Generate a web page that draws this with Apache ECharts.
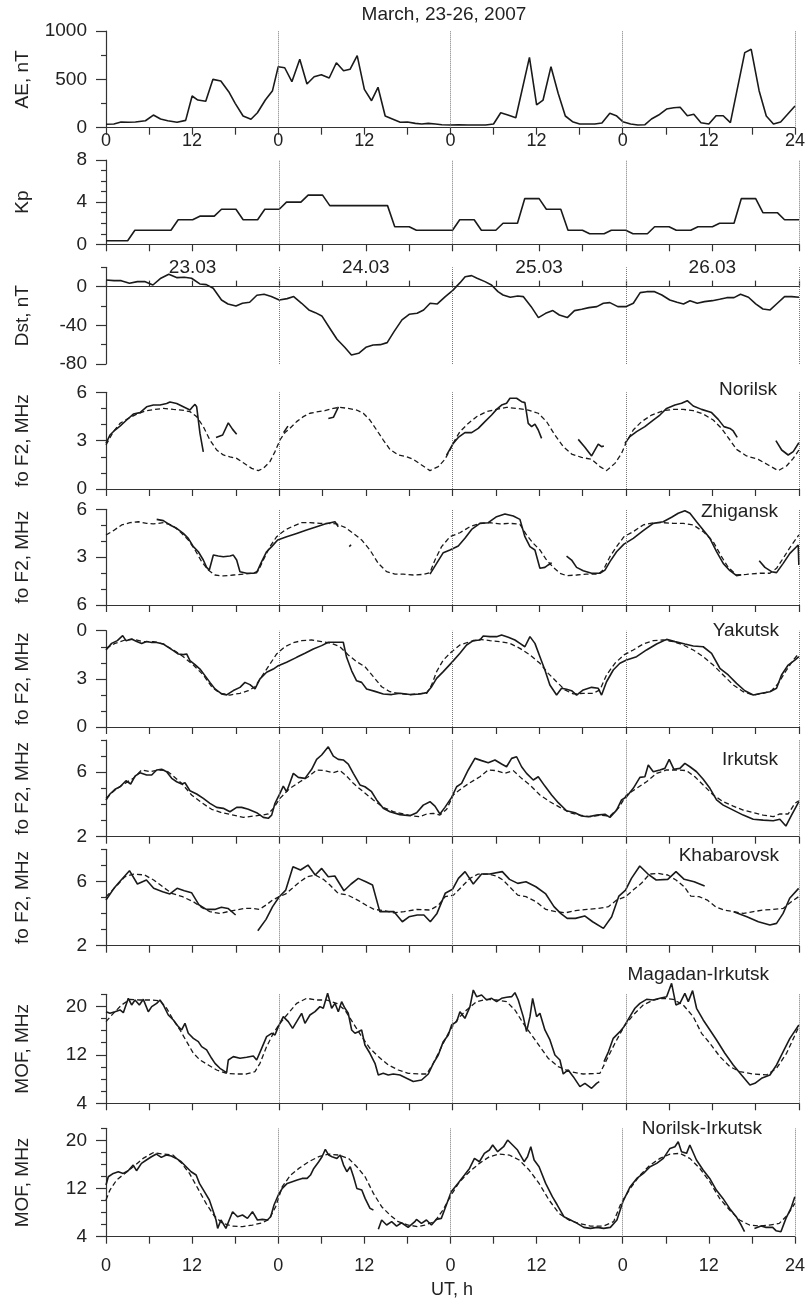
<!DOCTYPE html>
<html><head><meta charset="utf-8">
<script src="https://cdn.jsdelivr.net/npm/echarts@6/dist/echarts.min.js"></script>
<style>html,body{margin:0;padding:0;background:#fff}#c{width:808px;height:1304px}</style>
</head><body><div id="c"></div><script>
// ---------------- DATA ----------------
const chartTitle = 'March, 23-26, 2007';
const xAxisTitle = 'UT, h';
const dayBoundaries = [24, 48, 72, 96];
const dayLabelHours = [12, 36, 60, 84];
const dayLabels = ['23.03', '24.03', '25.03', '26.03'];
const stationNames = ['Norilsk', 'Zhigansk', 'Yakutsk', 'Irkutsk', 'Khabarovsk', 'Magadan-Irkutsk', 'Norilsk-Irkutsk'];
const yNames = ['AE, nT', 'Kp', 'Dst, nT', 'fo F2, MHz', 'fo F2, MHz', 'fo F2, MHz', 'fo F2, MHz', 'fo F2, MHz', 'MOF, MHz', 'MOF, MHz'];

const aeTicks = [0, 500, 1000], aeTickLabels = ['0', '500', '1000'], aeMinor = [250, 750];
const kpTicks = [0, 4, 8], kpTickLabels = ['0', '4', '8'], kpMinor = [1, 2, 3, 5, 6, 7];
const dstTicks = [-80, -40, 0], dstTickLabels = ['-80', '-40', '0'], dstMinor = [-60, -20, 20];
const norTicks = [0, 3, 6], norTickLabels = ['0', '3', '6'], f2Minor = [1, 2, 4, 5];
const zhiTicks = [0, 3, 6], zhiTickLabels = ['6', '3', '6'];
const yakTicks = [0, 3, 6], yakTickLabels = ['0', '3', '0'];
const irkTicks = [2, 6], irkTickLabels = ['2', '6'], irkMinor = [3, 4, 5, 7, 8];
const mofTicks = [4, 12, 20], mofTickLabels = ['4', '12', '20'], mofMinor = [6, 8, 10, 14, 16, 18, 22];

const aeData = [[0,35],[1.1,38],[2.1,59],[3.1,56],[4.1,59],[5.5,72],[6.6,131],[7.6,90],[8.6,72],[9.9,56],[11.1,76],[12,328],[12.8,286],[13.9,273],[14.9,500],[16,483],[17.1,372],[18,252],[19.1,121],[20.2,87],[21.1,155],[22.2,286],[23.2,383],[24,631],[24.9,620],[25.9,476],[27,707],[28,452],[29,527],[30,548],[31.1,514],[32.1,672],[33.1,589],[34,604],[35,745],[36,397],[37,279],[37.9,418],[38.9,121],[39.9,90],[41,56],[42,59],[43.1,45],[44,38],[44.9,45],[45.9,38],[46.8,31],[48,28],[49.1,31],[50.4,28],[51.8,28],[52.9,28],[54,38],[55,155],[56,131],[57.1,103],[59,728],[60,235],[60.9,286],[62,631],[63,356],[64,121],[65,62],[66,38],[67.1,38],[68.1,38],[69.1,49],[70.2,149],[71.1,124],[72,62],[73.1,38],[74.1,28],[75.1,31],[76,90],[77,131],[78.1,193],[79.1,207],[80,211],[81,124],[81.9,139],[82.9,52],[84,38],[85,124],[86,124],[87,52],[89,776],[89.9,811],[91,383],[92,121],[93,38],[94,59],[96,224]];

// Kp, one value per 3-hour interval (32 intervals)
const kpValues = [0.33,1.33,1.33,2.33,2.67,3.33,2.33,3.33, 4.0,4.67,3.67,3.67,3.67,1.67,1.33,1.33, 2.33,1.33,2.0,4.33,3.33,1.33,1.0,1.33, 1.0,1.67,1.33,1.67,2.0,4.33,3.0,2.33];

const dstData = [[0,6.9],[1.1,6.2],[2.1,6.2],[3.25,3.5],[4.35,5.2],[5.35,5.2],[6.5,1.7],[7.6,8.7],[8.7,12.8],[9.85,9.3],[10.85,9.7],[11.85,8.7],[13,2.8],[13.9,2.1],[14.85,-1.7],[16,-13.8],[16.9,-17.9],[18,-20],[18.9,-17.2],[19.9,-16.1],[20.9,-8.9],[21.9,-7.9],[22.9,-10.3],[24,-13.8],[25.1,-12.4],[26,-10.3],[27.1,-17.2],[28.1,-24.1],[29,-26.9],[29.9,-30.3],[31,-43],[32,-54.4],[33.1,-63],[34,-70.6],[35,-68.9],[36,-62.7],[37,-60.3],[38,-60],[38.95,-57.9],[39.9,-46.5],[41,-34.4],[42,-28.6],[43.1,-27.6],[44,-24.1],[44.9,-17.2],[45.9,-17.9],[47,-10.3],[48,-4.1],[49.05,4.1],[49.75,10.3],[50.65,11.4],[51.4,8.7],[52.5,5.2],[53.4,1.7],[54.3,-5.2],[55,-8.6],[56,-11],[57.05,-9.6],[57.8,-10.3],[58.9,-20.7],[59.9,-32],[60.9,-27.6],[61.9,-24.8],[62.8,-29.3],[63.9,-32],[64.9,-24.8],[65.9,-23.4],[66.9,-21.7],[68,-20.7],[68.9,-17.2],[69.8,-16.5],[70.9,-20.7],[72,-20.7],[73.05,-17.2],[74,-6.2],[74.9,-5.2],[76,-5.2],[77,-8.6],[78.1,-13.8],[79.1,-16.1],[80,-17.9],[80.9,-14.5],[81.9,-17.2],[82.9,-15.5],[84,-14.5],[85,-13],[86,-11.4],[87,-11.4],[87.9,-7.9],[89,-11],[90,-17.9],[91,-23.1],[92,-24.1],[93,-17.2],[94,-10.3],[95,-10.3],[96,-11]];

// foF2 observed (segments) and median
const norilskObs = [
 [[0,2.83],[0.55,3.35],[1.25,3.66],[1.94,3.9],[2.86,4.28],[3.79,4.65],[4.71,4.74],[5.63,5.1],[6.56,5.21],[7.48,5.21],[8.4,5.3],[8.86,5.4],[9.79,5.3],[10.71,5.1],[11.63,4.9],[12,5.1],[12.33,5.25],[12.56,5.1],[13.02,3.45],[13.48,2.3]],
 [[15.24,3.2],[16.16,3.35],[16.94,4.1],[17.54,3.7],[18.1,3.4]],
 [[24.6,3.5],[25.2,3.9]],
 [[30.8,4.38],[31.5,4.45],[32.2,5.1]],
 [[47.18,2.1],[48.1,2.83],[48.8,3.2],[49.72,3.5],[50.65,3.5],[51.57,3.76],[52.49,4.18],[53.42,4.59],[54.11,4.94],[54.8,5.21],[55.49,5.32],[55.96,5.63],[56.88,5.63],[57.57,5.42],[58.03,5.36],[58.49,4.07],[58.96,3.87],[59.42,4.03],[59.88,3.66],[60.34,3.14]],
 [[65.42,3.08],[66.34,2.59],[67.27,2.05],[68.19,2.79],[68.65,2.63],[68.97,2.67]],
 [[71.88,2.83],[72.57,3.25],[73.5,3.56],[74.65,3.87],[75.81,4.28],[76.73,4.59],[77.66,5.0],[78.81,5.21],[79.73,5.32],[80.52,5.48],[81.35,5.15],[82.5,4.94],[83.89,4.74],[84.81,4.32],[85.6,3.87],[86.43,3.76],[86.89,3.6],[87.44,3.2]],
 [[92.8,3.0],[93.6,2.42],[94.5,2.11],[95.2,2.32],[95.98,2.87]]
];
const norilskMed = [[0,2.73],[1.02,3.56],[1.94,4.07],[3.09,4.38],[4.25,4.65],[5.63,4.86],[6.79,4.94],[7.94,5.0],[9.33,4.94],[10.48,4.9],[11.63,4.8],[12.56,4.49],[13.48,3.87],[14.4,3.04],[15.33,2.42],[16.25,2.11],[17.17,2.0],[18.1,1.9],[19.02,1.63],[20.18,1.28],[21.1,1.14],[21.79,1.28],[22.71,1.7],[23.41,2.32],[24.1,3.04],[24.79,3.5],[25.48,3.76],[26.41,4.18],[27.33,4.49],[28.25,4.7],[29.41,4.8],[30.33,4.86],[31.49,5.0],[32.41,5.07],[33.56,5.0],[34.72,4.9],[35.64,4.7],[36.56,4.28],[37.49,3.66],[38.41,3.04],[39.33,2.46],[40.49,2.11],[41.64,2.0],[42.57,1.84],[43.72,1.49],[44.88,1.14],[46.03,1.39],[46.95,1.84],[47.65,2.42],[48.34,3.04],[49.03,3.56],[50.18,4.07],[51.34,4.49],[52.72,4.8],[54.11,4.94],[55.49,5.07],[56.88,5.0],[58.49,4.9],[59.88,4.7],[61.03,4.18],[62.19,3.35],[63.34,2.63],[64.5,2.17],[65.88,1.96],[67.27,1.84],[68.42,1.39],[69.34,1.14],[70.5,1.59],[71.42,2.21],[72.11,2.94],[73.04,3.66],[74.19,4.18],[75.58,4.59],[77.19,4.86],[78.58,4.94],[79.96,4.94],[81.35,4.86],[82.73,4.65],[84.12,4.28],[85.27,3.76],[86.43,3.04],[87.35,2.46],[88.73,2.05],[90.35,1.84],[91.74,1.49],[93.12,1.14],[94.27,1.43],[95.2,1.9],[95.98,2.42]];

const zhiganskObs = [
 [[7.02,5.37],[7.94,5.29],[8.86,5.02],[9.79,4.81],[10.71,4.49],[11.4,4.18],[12.1,3.66],[12.79,3.34],[13.48,2.82],[13.94,2.36],[14.31,2.19],[14.87,3.13],[15.56,3.07],[16.25,3.03],[17.17,3.07],[17.64,3.13],[18.1,2.82],[18.56,2.09],[19.48,1.99],[20.41,1.99],[20.87,2.03],[21.56,2.72],[22.25,3.34],[22.95,3.66],[23.78,4.08],[25.02,4.28],[26.41,4.49],[27.79,4.7],[29.18,4.91],[30.33,5.08],[31.72,5.22],[32.18,4.91]],
 [[33.7,3.66],[33.95,3.78]],
 [[44.88,1.94],[45.8,2.61],[46.72,3.28],[47.65,3.45],[48.8,3.7],[49.72,4.18],[50.65,4.74],[51.8,5.12],[52.95,5.16],[54.11,5.54],[55.26,5.71],[56.42,5.58],[57.34,5.37],[58.03,4.28],[58.73,3.66],[59.42,3.45],[60.11,2.3],[60.8,2.36],[61.26,2.51],[61.73,2.65]],
 [[63.8,3.07],[64.5,2.82],[65.19,2.36],[66.11,2.15],[67.27,1.99],[68.42,1.99],[69.12,2.19],[69.81,2.72],[70.73,3.34],[71.75,3.82],[73.04,4.18],[74.42,4.66],[75.81,5.12],[77.19,5.22],[78.35,5.5],[79.27,5.75],[80.19,5.91],[80.89,5.75],[81.81,5.22],[82.73,4.7],[83.66,4.18],[84.58,3.34],[85.5,2.61],[86.43,2.15],[87.35,1.84],[88.0,1.9]],
 [[90.49,2.78],[91.28,2.36],[92.2,2.09],[92.89,2.03],[93.81,2.61],[94.74,3.24],[95.89,3.76],[95.98,2.51]]
];
const zhiganskMed = [[0,4.39],[1.02,4.66],[2.17,5.02],[3.32,5.16],[4.48,5.22],[5.63,5.12],[6.56,5.08],[7.94,5.16],[9.1,5.02],[10.25,4.6],[11.4,4.08],[12.33,3.45],[13.25,2.72],[14.17,2.19],[15.1,1.88],[16.25,1.82],[17.64,1.88],[19.02,1.94],[20.41,1.99],[21.1,2.15],[21.79,2.82],[22.71,3.66],[23.64,4.28],[24.79,4.7],[25.95,4.95],[27.1,5.16],[28.25,5.16],[29.64,5.12],[30.79,5.12],[31.95,5.08],[33.1,4.87],[34.26,4.49],[35.41,4.08],[36.56,3.45],[37.72,2.61],[38.87,2.09],[40.03,1.94],[41.18,1.94],[42.57,1.88],[43.95,1.92],[44.88,2.03],[45.57,2.82],[46.49,3.66],[47.65,4.28],[49.03,4.53],[50.42,4.91],[51.8,5.12],[53.19,5.16],[54.57,5.08],[55.96,5.12],[57.34,5.06],[58.26,4.39],[59.19,3.87],[60.11,3.45],[61.03,2.82],[61.96,2.36],[62.88,1.99],[63.8,1.84],[65.19,1.88],[66.57,1.94],[68.19,1.94],[68.88,2.19],[69.81,3.03],[70.73,3.66],[71.75,4.28],[73.04,4.6],[74.42,5.02],[75.81,5.16],[77.19,5.16],[78.58,5.12],[79.96,5.12],[81.35,5.02],[82.73,4.6],[84.12,3.97],[85.27,3.03],[86.2,2.36],[87.35,1.88],[88.73,1.92],[90.58,1.99],[91.97,1.99],[92.89,2.3],[93.81,2.93],[94.97,3.76],[95.98,4.39]];

const yakutskObs = [[[0,4.8],[0.78,5.21],[1.57,5.38],[2.31,5.69],[2.77,5.38],[3.55,5.48],[4.25,5.33],[4.94,5.21],[5.63,5.33],[6.33,5.27],[7.02,5.27],[7.94,5.17],[8.63,4.96],[9.33,4.76],[10.02,4.55],[10.71,4.51],[11.17,4.55],[11.63,4.13],[12.33,3.88],[13.02,3.61],[13.71,3.2],[14.4,2.78],[15.1,2.37],[16.02,2.06],[16.71,2.0],[17.64,2.27],[18.56,2.47],[19.25,2.78],[19.94,2.64],[20.64,2.37],[21.33,3.0],[22.25,3.41],[23.18,3.61],[23.87,3.82],[25.02,4.03],[26.41,4.34],[27.56,4.59],[28.72,4.86],[29.87,5.07],[30.79,5.28],[31.72,5.28],[32.87,5.28],[33.33,4.34],[34.03,3.5],[34.72,2.88],[35.41,2.78],[36.1,2.37],[37.26,2.22],[38.41,2.06],[39.57,2.02],[40.72,2.1],[42.1,2.02],[43.49,2.06],[44.42,2.14],[45.11,2.51],[45.8,3.03],[46.72,3.45],[47.88,4.01],[49.03,4.59],[49.95,5.11],[50.87,5.38],[51.8,5.42],[52.26,5.67],[53.19,5.63],[54.11,5.63],[54.8,5.73],[55.73,5.59],[56.65,5.42],[57.34,5.21],[58.03,5.0],[58.73,5.63],[59.42,5.21],[60.11,4.38],[60.8,3.55],[61.49,2.62],[62.42,1.99],[63.11,2.41],[63.8,2.35],[64.5,2.26],[65.19,1.99],[66.11,2.31],[67.27,2.47],[68.19,2.41],[68.65,1.99],[69.34,2.82],[70.27,3.55],[71.19,3.97],[72.11,4.17],[73.5,4.38],[74.88,4.8],[76.27,5.17],[77.66,5.46],[78.81,5.32],[80.19,5.17],[81.35,5.05],[82.73,5.0],[83.89,4.59],[85.04,3.66],[86.2,3.24],[87.35,2.72],[88.5,2.26],[89.66,1.99],[90.81,2.1],[91.97,2.2],[92.89,2.41],[93.58,3.24],[94.5,3.86],[95.42,4.17],[95.98,4.38]]];
const yakutskMed = [[0,4.9],[1.25,5.21],[2.63,5.42],[3.79,5.46],[5.17,5.32],[6.56,5.32],[7.94,5.17],[9.33,4.8],[10.71,4.38],[12.1,3.86],[13.48,3.24],[14.63,2.51],[15.79,2.1],[17.17,1.99],[18.56,2.1],[19.71,2.26],[20.64,2.51],[21.56,3.14],[22.48,3.76],[23.64,4.55],[24.79,5.0],[25.95,5.25],[27.1,5.38],[28.49,5.42],[29.87,5.32],[31.26,5.21],[32.41,5.0],[33.56,4.49],[34.72,4.07],[35.87,3.76],[37.03,3.14],[38.18,2.51],[39.33,2.2],[40.72,2.08],[42.1,2.02],[43.49,2.08],[44.42,2.1],[45.11,2.62],[45.8,3.45],[46.72,4.17],[47.88,4.69],[49.03,5.11],[50.42,5.32],[51.8,5.46],[53.19,5.38],[54.57,5.32],[55.96,5.21],[57.34,4.9],[58.73,4.49],[60.11,3.97],[61.26,3.34],[62.42,2.82],[63.57,2.31],[64.73,2.06],[66.11,2.1],[67.5,2.1],[68.42,2.31],[69.34,3.24],[70.5,3.97],[71.75,4.49],[73.04,4.8],[74.42,5.17],[75.81,5.38],[77.19,5.42],[78.58,5.32],[79.96,5.11],[81.35,4.8],[82.73,4.38],[84.12,3.86],[85.5,3.24],[86.89,2.62],[88.27,2.2],[89.66,1.99],[91.04,2.1],[92.2,2.26],[93.12,2.72],[94.27,3.55],[95.2,4.17],[95.98,4.59]];

const irkutskObs = [[[0,4.28],[0.55,4.65],[1.25,4.94],[1.94,5.1],[2.77,5.47],[3.42,5.27],[4.02,5.76],[4.71,5.97],[5.63,5.83],[6.33,5.83],[7.02,6.14],[7.71,6.18],[8.4,6.03],[9.1,5.62],[9.79,5.41],[10.48,5.27],[10.94,5.35],[11.63,4.85],[12.56,4.65],[13.48,4.38],[14.4,4.07],[15.33,3.82],[16.25,3.76],[17.17,3.55],[18.1,3.82],[18.79,3.82],[19.71,3.7],[20.87,3.49],[21.79,3.2],[22.48,3.14],[22.95,3.34],[23.41,4.07],[24.1,4.69],[24.56,5.14],[25.02,4.79],[25.95,5.93],[26.64,5.68],[27.56,5.62],[28.49,6.18],[29.18,6.8],[29.87,7.07],[30.79,7.58],[31.49,7.0],[32.18,6.8],[32.87,6.76],[33.56,6.51],[34.26,5.93],[35.18,5.21],[35.87,5.1],[36.79,4.79],[37.49,4.28],[38.41,3.76],[39.33,3.55],[40.72,3.37],[42.1,3.3],[43.03,3.49],[43.95,3.96],[44.88,4.17],[45.57,3.9],[46.26,3.41],[46.95,3.82],[47.88,4.44],[48.57,5.1],[49.26,5.31],[50.18,6.14],[51.11,6.86],[52.03,6.72],[52.95,6.59],[53.88,6.76],[54.8,6.51],[55.49,6.34],[56.19,6.86],[56.88,6.96],[57.57,6.34],[58.26,5.93],[59.19,5.52],[59.88,5.72],[60.8,5.14],[61.73,4.59],[62.65,4.11],[63.8,3.61],[64.96,3.49],[65.88,3.28],[66.8,3.24],[67.96,3.34],[69.12,3.39],[69.81,3.2],[70.73,3.65],[71.42,4.28],[72.11,4.48],[73.04,5.0],[73.96,5.68],[74.65,5.72],[75.12,6.45],[75.81,6.03],[76.73,6.14],[77.42,6.24],[78.02,6.8],[78.67,6.18],[79.5,6.24],[80.19,6.55],[80.89,6.34],[81.81,6.03],[82.73,5.56],[83.66,5.0],[84.58,4.28],[85.5,3.96],[86.89,3.65],[88.27,3.34],[89.66,3.08],[91.04,3.03],[92.43,2.99],[93.35,3.08],[94.18,2.66],[94.97,3.34],[95.98,4.17]]];
const irkutskMed = [[0,4.38],[1.25,4.9],[2.63,5.31],[3.79,5.62],[4.94,6.14],[6.1,6.03],[7.25,6.14],[8.4,6.1],[9.33,5.76],[10.48,5.31],[11.86,4.59],[13.25,4.11],[14.63,3.7],[16.02,3.49],[17.64,3.34],[19.02,3.2],[20.41,3.28],[21.56,3.34],[22.48,3.41],[23.18,3.76],[24.1,4.38],[25.48,5.0],[26.87,5.41],[28.02,5.72],[29.18,6.14],[30.33,6.1],[31.49,5.97],[32.41,6.1],[33.33,5.76],[34.26,5.31],[35.64,4.79],[37.03,4.28],[38.41,3.82],[39.8,3.55],[41.18,3.41],[42.57,3.28],[43.49,3.24],[44.42,3.41],[45.34,3.45],[46.26,3.34],[47.19,3.7],[48.1,4.59],[49.26,5.0],[50.42,5.35],[51.8,5.72],[52.95,6.14],[54.11,6.1],[55.26,5.93],[56.42,6.1],[57.57,5.62],[58.73,5.21],[60.11,4.59],[61.49,4.17],[62.88,3.82],[64.27,3.49],[65.65,3.34],[67.04,3.24],[68.42,3.34],[69.81,3.28],[70.96,3.76],[72.11,4.59],[73.5,5.0],[74.88,5.41],[76.27,5.93],[77.66,6.14],[79.04,6.14],[80.42,6.1],[81.58,5.72],[82.73,5.21],[84.12,4.59],[85.5,4.17],[86.89,3.9],[88.27,3.65],[89.66,3.49],[91.04,3.34],[92.43,3.24],[93.35,3.41],[94.5,3.41],[95.42,4.07],[95.98,4.23]];

const khabarovskObs = [
 [[0,4.84],[1.1,5.57],[2.1,6.09],[3.25,6.67],[4.35,5.84],[5.6,6.09],[6.6,5.57],[7.85,5.36],[8.85,5.22],[9.85,5.57],[10.85,5.42],[11.85,5.3],[12.9,4.53],[13.9,4.26],[15.07,4.26],[15.99,4.39],[16.9,4.32],[17.96,3.91]],
 [[21.03,2.93],[22.17,3.64],[23.08,4.43],[24,5.05],[24.9,5.46],[25.9,6.92],[26.94,6.71],[27.98,7.02],[28.98,6.4],[29.88,6.81],[30.79,6.29],[31.7,6.34],[32.96,5.42],[33.95,5.84],[34.95,6.19],[36,5.98],[36.92,5.78],[37.93,4.12],[38.98,4.12],[39.9,4.12],[41.05,3.49],[41.97,3.8],[43.12,3.91],[44.04,3.91],[44.93,3.49],[45.85,4.01],[46.99,5.26],[48,5.51],[48.82,6.19],[49.74,6.61],[50.88,5.84],[52.03,6.46],[53.16,6.46],[54.9,6.61],[55.9,6.13],[57.04,5.88],[58.18,5.98],[59.55,5.67],[60.92,5.22],[62.06,4.43],[62.98,4.01],[63.89,3.7],[65.03,3.7],[66.31,3.85],[67.41,3.49],[68.91,3.08],[70.05,3.8],[71.05,5.09],[71.97,5.46],[72.79,6.19],[73.94,6.96],[75.08,6.46],[76.22,6.09],[77.82,6.13],[78.96,6.61],[80.1,6.13],[81.47,5.98],[82.93,5.71]],
 [[86.95,4.12],[88.78,3.8],[90.37,3.49],[91.97,3.29],[92.89,3.39],[93.8,4.01],[94.71,4.95],[95.95,5.57]]
];
const khabarovskMed = [[0,5.05],[1.35,5.67],[2.6,6.29],[3.85,6.46],[5.35,6.4],[6.6,6.09],[7.85,5.67],[9.1,5.26],[10.6,5.05],[12.09,4.74],[13.23,4.39],[14.38,4.12],[15.75,4.01],[16.9,4.12],[18.05,4.22],[19.19,4.32],[20.33,4.32],[21.25,4.26],[22.17,4.53],[23.08,4.84],[24,5.05],[24.9,5.22],[25.81,5.57],[26.71,5.92],[27.85,6.29],[28.98,6.4],[30.11,6.13],[31.02,5.78],[32.15,5.26],[33.5,5.15],[34.86,4.84],[36,4.53],[37.15,4.26],[38.53,4.18],[39.9,4.05],[41.28,4.12],[43.1,4.26],[44.93,4.22],[46.07,4.53],[46.99,5.05],[48.14,5.15],[49.28,5.67],[50.42,6.19],[51.56,6.46],[52.93,6.46],[54.07,6.34],[54.99,6.09],[55.9,5.67],[57.04,5.15],[58.18,5.05],[59.55,4.74],[60.92,4.26],[62.29,4.12],[63.66,4.05],[65.03,4.18],[66.63,4.26],[68.23,4.32],[69.6,4.43],[70.74,4.84],[71.97,5.05],[73.02,5.46],[74.16,5.88],[75.3,6.46],[76.45,6.5],[77.82,6.4],[78.96,6.09],[80.1,5.67],[81.01,5.09],[82.16,5.05],[83.3,4.84],[84.44,4.43],[85.58,4.22],[86.95,4.12],[88.32,4.01],[89.69,4.12],[91.06,4.22],[92.43,4.26],[93.8,4.32],[94.94,4.74],[95.95,5.05]];

const magIrkObs = [
 [[0,19.13],[0.55,18.86],[1.25,19.13],[1.94,19.41],[2.4,18.97],[3.09,21.34],[3.55,20.24],[4.02,21.06],[4.62,20.24],[5.17,21.17],[5.86,19.13],[6.33,19.96],[7.02,20.51],[7.48,21.06],[7.94,20.24],[8.63,18.58],[9.33,17.76],[10.02,16.66],[10.48,16.11],[10.94,17.21],[11.4,15.56],[12.1,14.73],[12.79,14.18],[13.25,13.36],[13.94,12.81],[14.63,11.43],[15.1,10.6],[15.79,9.78],[16.71,9.06],[16.94,11.15],[17.64,11.71],[18.56,11.43],[19.48,11.6],[20.41,11.82],[20.87,11.15],[21.56,13.08],[22.25,15.0],[22.95,15.56],[23.41,15.28],[23.87,16.66],[24.56,18.31],[25.25,17.48],[25.85,16.38],[26.41,17.48],[27.1,18.86],[27.56,17.21],[28.25,18.58],[28.95,19.13],[29.64,19.96],[30.1,19.69],[30.7,22.16],[31.26,19.69],[31.72,20.51],[32.18,19.13],[32.64,20.79],[33.1,19.69],[33.56,18.86],[34.03,16.11],[34.49,15.56],[34.95,15.83],[35.41,16.11],[35.87,13.63],[36.56,12.26],[37.26,10.6],[37.72,8.68],[38.41,8.95],[39.1,8.68],[39.8,8.84],[40.72,8.68],[41.64,8.13],[42.57,7.6],[43.72,7.85],[44.65,8.84],[45.34,10.6],[46.03,11.98],[46.72,14.18],[47.42,15.28],[47.88,16.93],[48.57,17.48],[49.03,19.13],[49.72,18.03],[50.42,19.96],[50.88,22.71],[51.34,21.61],[52.03,21.89],[52.72,21.06],[53.42,21.34],[54.11,20.79],[54.8,21.34],[55.49,21.5],[56.19,21.61],[56.65,22.27],[57.11,21.06],[57.8,18.31],[58.26,15.83],[58.73,18.31],[59.1,21.34],[59.65,18.31],[60.11,18.86],[60.8,16.11],[61.5,14.46],[62.19,11.98],[62.88,11.15],[63.34,8.84],[64.03,9.5],[64.73,8.4],[65.65,6.75],[66.34,7.3],[67.27,6.48],[67.96,7.3],[68.33,7.58]],
 [[68.99,10.88],[69.6,12.5],[70.27,14.73],[71.19,15.83],[71.75,16.66],[72.57,18.31],[73.27,19.69],[73.96,20.51],[74.88,21.17],[75.81,21.06],[76.73,21.34],[77.66,21.61],[78.35,23.81],[78.95,20.24],[79.5,20.51],[80.19,22.16],[80.66,20.79],[81.26,22.6],[81.81,19.69],[82.73,17.76],[83.66,16.11],[84.58,14.46],[85.73,12.26],[86.89,10.33],[88.04,8.68],[89.2,7.03],[89.89,7.3],[90.81,8.13],[91.97,8.68],[92.89,10.33],[93.81,12.53],[94.74,14.73],[95.98,16.93]]
];
const magIrkMed = [[0,17.48],[1.02,18.86],[2.17,20.24],[3.32,21.17],[4.71,21.06],[6.09,21.06],[7.48,20.95],[8.4,19.69],[9.33,17.76],[10.25,16.11],[11.17,14.18],[12.1,12.26],[13.02,11.15],[14.17,10.33],[15.33,9.5],[16.71,8.95],[18.1,8.84],[19.48,8.84],[20.64,9.23],[21.33,10.6],[22.25,13.36],[23.18,15.56],[24.1,17.21],[25.25,18.86],[26.41,20.51],[27.79,21.34],[29.18,21.06],[30.56,21.06],[31.95,20.51],[33.1,19.41],[34.26,17.21],[35.41,15.01],[36.56,13.08],[37.72,11.71],[39.1,10.33],[40.49,9.5],[41.87,8.95],[43.49,8.84],[44.42,8.84],[45.34,10.6],[46.49,13.36],[47.65,16.11],[48.8,18.03],[49.95,19.41],[51.34,20.79],[52.72,21.17],[54.11,21.06],[55.49,20.79],[56.65,19.41],[57.8,17.21],[58.96,15.28],[60.11,13.36],[61.26,11.43],[62.65,10.05],[64.27,9.23],[66.11,8.84],[68.42,8.95],[69.34,11.15],[70.5,13.91],[71.75,16.66],[73.04,18.58],[74.42,20.24],[75.81,21.06],[77.19,21.34],[78.58,21.17],[79.96,20.24],[81.35,18.31],[82.5,15.56],[83.66,13.91],[85.04,11.71],[86.43,10.05],[87.81,9.23],[89.66,8.84],[91.5,8.68],[92.89,9.78],[94.27,12.26],[95.98,16.66]];

const norIrkObs = [
 [[0,12.58],[0.32,13.96],[1.02,14.51],[1.71,14.79],[2.4,14.51],[3.09,14.96],[3.79,15.9],[4.25,14.96],[4.94,16.18],[5.63,16.73],[6.33,17.28],[7.02,17.72],[7.71,17.17],[8.4,17.56],[9.1,17.39],[9.79,17.0],[10.48,16.45],[11.17,15.62],[11.86,14.79],[12.56,14.24],[13.02,12.85],[13.71,11.47],[14.4,10.09],[14.96,8.15],[15.33,6.77],[15.56,5.38],[16.02,6.77],[16.71,5.38],[17.17,6.77],[17.64,8.15],[18.33,7.32],[19.02,7.6],[19.71,7.04],[20.41,8.15],[21.1,6.77],[21.79,6.88],[22.48,6.77],[22.95,7.32],[23.41,9.26],[24.01,10.92],[24.56,12.02],[25.25,12.85],[25.95,13.13],[26.64,13.41],[27.33,13.68],[28.02,13.68],[28.49,14.24],[28.95,15.34],[29.64,16.45],[30.1,17.28],[30.56,18.5],[31.02,17.56],[31.49,17.28],[32.18,17.0],[32.64,17.56],[33.1,15.9],[33.56,14.79],[34.03,15.62],[34.49,13.96],[34.95,12.02],[35.64,11.75],[36.1,10.36],[36.79,8.7],[37.26,8.43]],
 [[37.95,5.22],[38.41,6.77],[39.1,5.94],[39.8,6.49],[40.49,5.77],[41.18,6.32],[42.1,5.55],[43.03,6.49],[43.26,6.88],[43.95,6.21],[44.65,6.77],[45.34,5.94],[46.03,6.88],[46.72,7.04],[47.42,9.26],[48.1,11.47],[49.03,12.85],[49.95,14.24],[50.65,15.34],[51.34,17.0],[52.03,16.45],[52.72,17.84],[53.42,18.39],[53.88,19.22],[54.57,18.11],[55.4,18.94],[55.96,20.05],[56.65,19.22],[57.34,18.39],[58.26,16.45],[58.73,17.28],[59.19,18.94],[59.65,16.73],[60.34,15.62],[61.26,12.85],[62.19,10.64],[62.88,9.26],[63.8,7.32],[64.73,6.77],[65.65,6.21],[66.57,5.55],[67.5,5.38],[68.42,5.55],[69.34,5.38],[70.27,5.55],[71.19,6.77],[72.02,9.81],[73.04,12.3],[73.96,13.68],[74.88,14.51],[75.81,15.62],[76.73,16.18],[77.66,17.0],[78.58,18.66],[79.27,18.94],[79.73,19.77],[80.19,18.11],[80.89,17.84],[81.35,19.22],[82.27,16.73],[83.2,15.07],[84.12,13.68],[85.04,11.75],[85.96,10.36],[86.89,8.7],[87.81,7.32],[88.5,5.94],[88.97,4.83]],
 [[90.35,5.38],[91.27,5.77],[91.97,5.55],[92.89,5.55],[93.35,5.0],[94.04,4.83],[94.74,7.04],[95.43,8.7],[95.98,10.64]]
];
const norIrkMed = [[0,10.09],[0.55,11.75],[1.48,13.41],[2.63,14.51],[3.79,15.62],[5.17,17.0],[6.56,17.95],[7.94,17.72],[9.33,17.56],[10.48,16.29],[11.63,14.51],[12.79,12.02],[13.94,9.53],[15.1,7.43],[16.25,6.21],[17.64,5.77],[19.02,5.66],[20.41,5.94],[21.79,6.32],[22.71,6.88],[23.64,8.98],[24.56,12.3],[25.72,14.24],[26.87,15.34],[28.25,16.45],[29.64,17.28],[31.02,17.72],[32.41,17.56],[33.79,17.0],[34.95,15.62],[36.1,13.96],[37.26,11.19],[38.41,8.98],[39.57,7.6],[40.72,6.49],[42.1,5.94],[43.49,5.66],[44.42,5.94],[45.8,6.49],[46.95,8.43],[48.1,10.92],[49.26,13.13],[50.65,14.79],[52.03,16.18],[53.42,17.28],[54.8,17.72],[56.19,17.56],[57.57,16.73],[58.96,15.07],[60.34,12.85],[61.73,10.09],[63.11,7.87],[64.5,6.77],[65.88,6.21],[67.5,5.77],[69.34,5.77],[70.73,6.49],[71.75,9.53],[73.04,12.02],[74.42,14.24],[75.81,15.9],[77.19,17.0],[78.58,17.72],[79.96,17.84],[81.35,17.0],[82.73,15.34],[84.12,13.13],[85.5,10.36],[86.89,8.43],[88.27,6.77],[89.66,5.94],[91.04,5.77],[92.43,5.94],[93.81,6.21],[94.96,7.6],[95.98,9.53]];

// ---------------- BUILD ----------------
const FONT = '"Liberation Sans", Arial, sans-serif';
const INK = '#1a1a1a';
function joinSegs(segs) {
  const out = [];
  segs.forEach((s, i) => {
    if (i) out.push([(segs[i - 1][segs[i - 1].length - 1][0] + s[0][0]) / 2, null]);
    s.forEach(p => out.push(p));
  });
  return out;
}
function kpLine(vals) {
  const out = [[0, vals[0]]];
  vals.forEach((v, k) => { out.push([3 * k + 1, v]); out.push([3 * k + 3, v]); });
  return out;
}
// layout of the ten stacked panels (pixels)
const layout = [
  {top: 31, h: 96.7}, {top: 160, h: 84.3}, {top: 267.3, h: 96.7}, {top: 392.3, h: 96.7},
  {top: 509.3, h: 95.7}, {top: 630.7, h: 96.3}, {top: 740, h: 96.7}, {top: 849.3, h: 96.4},
  {top: 994.3, h: 109}, {top: 1128.3, h: 108.4}
];
const scales = [
  {min: 0, max: 1000, ticks: aeTicks, labels: aeTickLabels, minor: aeMinor},
  {min: 0, max: 8, ticks: kpTicks, labels: kpTickLabels, minor: kpMinor},
  {min: -80, max: 20, ticks: dstTicks, labels: dstTickLabels, minor: dstMinor},
  {min: 0, max: 6, ticks: norTicks, labels: norTickLabels, minor: f2Minor},
  {min: 0, max: 6, ticks: zhiTicks, labels: zhiTickLabels, minor: f2Minor},
  {min: 0, max: 6, ticks: yakTicks, labels: yakTickLabels, minor: f2Minor},
  {min: 2, max: 8, ticks: irkTicks, labels: irkTickLabels, minor: irkMinor},
  {min: 2, max: 8, ticks: irkTicks, labels: irkTickLabels, minor: irkMinor},
  {min: 4, max: 22, ticks: mofTicks, labels: mofTickLabels, minor: mofMinor},
  {min: 4, max: 22, ticks: mofTicks, labels: mofTickLabels, minor: mofMinor}
];
const panelSeries = [
  [{d: aeData}],
  [{d: kpLine(kpValues)}],
  [{d: dstData}],
  [{d: norilskMed, dash: true}, {d: joinSegs(norilskObs)}],
  [{d: zhiganskMed, dash: true}, {d: joinSegs(zhiganskObs)}],
  [{d: yakutskMed, dash: true}, {d: joinSegs(yakutskObs)}],
  [{d: irkutskMed, dash: true}, {d: joinSegs(irkutskObs)}],
  [{d: khabarovskMed, dash: true}, {d: joinSegs(khabarovskObs)}],
  [{d: magIrkMed, dash: true}, {d: joinSegs(magIrkObs)}],
  [{d: norIrkMed, dash: true}, {d: joinSegs(norIrkObs)}]
];
const stationLabelPos = [
  {x: 777, y: 390}, {x: 778, y: 512}, {x: 779, y: 631}, {x: 778, y: 760},
  {x: 779, y: 856}, {x: 769, y: 975}, {x: 762, y: 1129}
];

const axisLineStyle = {color: '#333', width: 1.2};
const grid = [], xAxis = [], yAxis = [], series = [];
function xLabel(v) { if (v === 96) return '24'; if (v % 24 === 0) return '0'; if (v % 12 === 0) return '12'; return ''; }

layout.forEach((L, i) => {
  grid.push({left: 106, right: 9, top: L.top, height: L.h, containLabel: false});
  const isDst = i === 2;
  const showLab = i === 0 || i === 9;
  xAxis.push({
    gridIndex: i, type: 'value', min: 0, max: 96, interval: 6,
    axisLine: {show: true, onZero: isDst, lineStyle: axisLineStyle},
    axisTick: {show: true, inside: isDst, length: isDst ? 6 : 7, lineStyle: {color: '#333', width: 1.2}},
    axisLabel: {show: showLab, formatter: xLabel, color: '#222', fontSize: 18, fontFamily: FONT, margin: i === 9 ? 20 : 4, showMinLabel: true, showMaxLabel: true},
    splitLine: {show: false}
  });
  const S = scales[i];
  yAxis.push({
    gridIndex: i, type: 'value', position: 'left', offset: 0, min: S.min, max: S.max,
    name: yNames[i], nameLocation: 'middle', nameGap: 74, nameRotate: 90,
    nameTextStyle: {fontSize: 19, color: '#222', fontFamily: FONT},
    axisLine: {show: true, onZero: false, lineStyle: axisLineStyle},
    axisTick: {show: true, length: 10, customValues: S.ticks, lineStyle: {color: '#333', width: 1.2}},
    axisLabel: {show: true, customValues: S.ticks, formatter: v => S.labels[S.ticks.indexOf(v)],
      color: '#222', fontSize: 19, fontFamily: FONT, margin: 19},
    splitLine: {show: false}
  });
  yAxis.push({
    gridIndex: i, type: 'value', position: 'left', offset: 0, min: S.min, max: S.max,
    axisLine: {show: false}, axisLabel: {show: false}, splitLine: {show: false},
    axisTick: {show: true, length: 5, customValues: S.minor, lineStyle: {color: '#333', width: 1.2}}
  });
  panelSeries[i].forEach((s, k) => {
    const ser = {
      type: 'line', xAxisIndex: i, yAxisIndex: 2 * i, data: s.d, showSymbol: false, symbol: 'none',
      connectNulls: false, animation: false, silent: true, clip: false,
      lineStyle: s.dash ? {color: INK, width: 1.3, type: [5, 3]} : {color: INK, width: 1.6}
    };
    if (k === 0) {
      ser.markLine = {
        silent: true, symbol: ['none', 'none'], label: {show: false}, animation: false,
        lineStyle: {color: '#777', width: 1, type: 'dotted'},
        data: dayBoundaries.map(h => ({xAxis: h}))
      };
    }
    series.push(ser);
  });
});

// day labels of the Dst panel, placed at noon of each day on the top edge of the Dst scale
series.push({
  type: 'scatter', xAxisIndex: 2, yAxisIndex: 4, symbolSize: 0, silent: true, animation: false, clip: false,
  itemStyle: {opacity: 1},
  data: dayLabelHours.map(h => [h, scales[2].max]),
  label: {show: true, position: 'inside', formatter: p => dayLabels[p.dataIndex],
    color: '#222', opacity: 1, textBorderWidth: 0, fontSize: 19, fontFamily: FONT}
});

const graphic = [
  {type: 'text', x: 444, y: 15, style: {text: chartTitle, font: '19px ' + FONT, fill: '#222', textAlign: 'center', textVerticalAlign: 'middle'}},
  {type: 'text', x: 452, y: 1290, style: {text: xAxisTitle, font: '18px ' + FONT, fill: '#222', textAlign: 'center', textVerticalAlign: 'middle'}}
];
stationLabelPos.forEach((s, j) => {
  graphic.push({type: 'text', x: s.x, y: s.y, style: {text: stationNames[j], font: '19px ' + FONT, fill: '#222', textAlign: 'right', textVerticalAlign: 'middle'}});
});

const chart = echarts.init(document.getElementById('c'), null, {renderer: 'canvas'});
chart.setOption({backgroundColor: '#fff', animation: false, grid, xAxis, yAxis, series, graphic});
</script></body></html>
